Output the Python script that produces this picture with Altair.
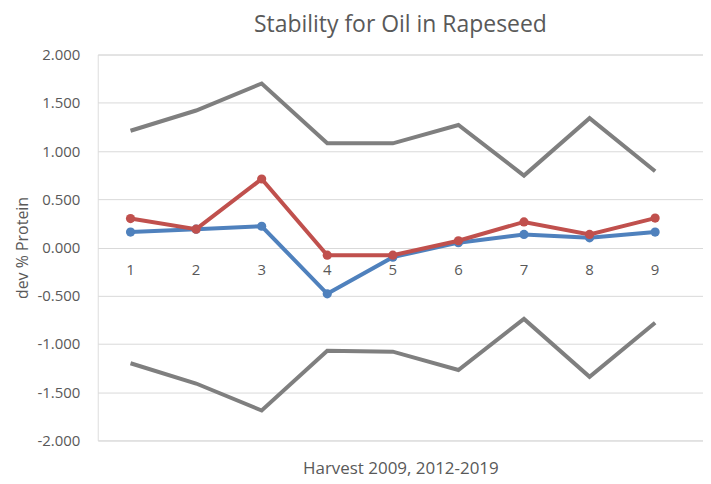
import altair as alt
import pandas as pd

harvest = [1, 2, 3, 4, 5, 6, 7, 8, 9]
blue_vals = [0.16, 0.19, 0.22, -0.48, -0.10, 0.05, 0.135, 0.10, 0.16]
red_vals = [0.30, 0.19, 0.71, -0.08, -0.08, 0.07, 0.265, 0.135, 0.305]
upper_vals = [1.21, 1.42, 1.70, 1.08, 1.08, 1.27, 0.745, 1.34, 0.79]
lower_vals = [-1.20, -1.41, -1.69, -1.07, -1.08, -1.27, -0.74, -1.34, -0.78]
y_ticks = [-2.0, -1.5, -1.0, -0.5, 0.0, 0.5, 1.0, 1.5, 2.0]

FONT = "Open Sans"
TXT = "#595959"

def frame(vals, name):
    return pd.DataFrame({"x": harvest, "y": vals, "s": name})

df_up = frame(upper_vals, "upper")
df_lo = frame(lower_vals, "lower")
df_blue = frame(blue_vals, "blue")
df_red = frame(red_vals, "red")
df_lab = pd.DataFrame({"x": harvest, "y": [0.0] * len(harvest), "t": [str(h) for h in harvest]})

xs = alt.Scale(domain=[0.5, 9.73], nice=False, zero=False)
ys = alt.Scale(domain=[-2, 2], nice=False)

x_enc = alt.X("x:Q", scale=xs, axis=alt.Axis(title="Harvest 2009, 2012-2019", labels=False, ticks=False,
                                             domain=False, grid=False, titlePadding=20,
                                             titleFont=FONT, titleFontSize=17, titleFontWeight="normal",
                                             titleColor=TXT))
y_enc = alt.Y("y:Q", scale=ys, axis=alt.Axis(title="dev % Protein", values=y_ticks,
                                             labelExpr="replace(format(datum.value, '.3f'), '\u2212', '-')",
                                             grid=True, gridColor="#D9D9D9", gridWidth=1,
                                             ticks=False, domain=False, labelPadding=18,
                                             labelFont=FONT, labelFontSize=15, labelColor=TXT,
                                             titleFont=FONT, titleFontSize=16, titleFontWeight="normal",
                                             titleColor=TXT, titlePadding=6))

def line(df, color):
    return alt.Chart(df).mark_line(color=color, strokeWidth=4).encode(x=x_enc, y=y_enc)

def pts(df, color):
    return alt.Chart(df).mark_point(color=color, filled=True, opacity=1, size=85).encode(x=x_enc, y=y_enc)

labels = alt.Chart(df_lab).mark_text(font=FONT, fontSize=15, color=TXT, dy=23).encode(
    x=x_enc, y=y_enc, text="t:N")

chart = alt.layer(
    labels,
    line(df_up, "#7F7F7F"),
    line(df_lo, "#7F7F7F"),
    line(df_blue, "#4F81BD"), pts(df_blue, "#4F81BD"),
    line(df_red, "#C0504D"), pts(df_red, "#C0504D"),
).properties(
    width=607, height=387,
    title=alt.TitleParams("Stability for Oil in Rapeseed", font=FONT, fontSize=23, fontWeight="normal",
                          color=TXT, offset=11, anchor="middle"),
    padding={"left": 90, "top": 46, "right": 0, "bottom": 40},
    autosize=alt.AutoSizeParams(type="none"),
).configure_view(stroke=None).configure(background="white")

chart.save("out.html", embed_options={"renderer": "svg", "actions": False})
